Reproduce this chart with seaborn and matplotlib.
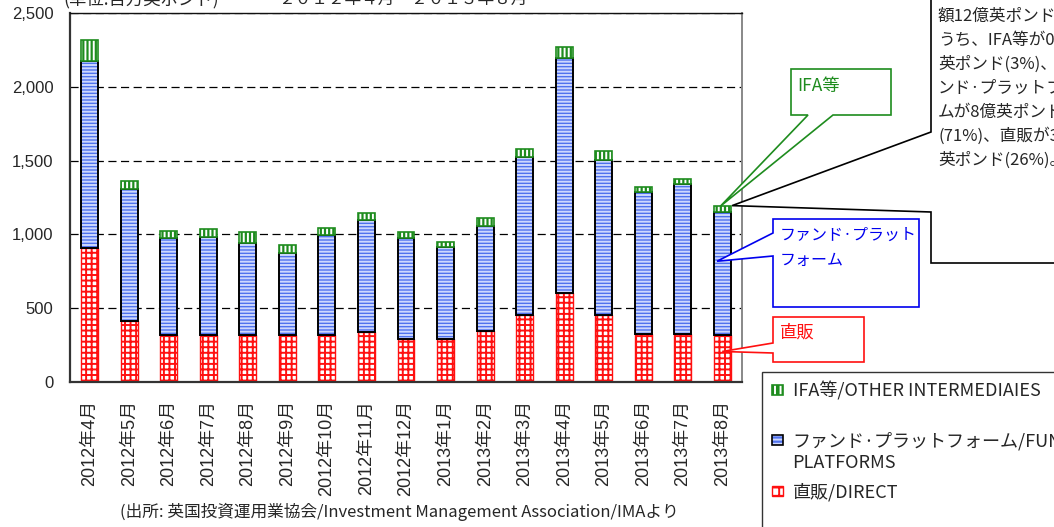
import numpy as np
import pandas as pd
import matplotlib
matplotlib.use("Agg")
import matplotlib.pyplot as plt
from matplotlib.patches import Patch, Polygon, Rectangle
from matplotlib.legend_handler import HandlerTuple
import seaborn as sns

# Monthly net retail sales by distribution channel (GBP millions)
months = ["2012年4月", "2012年5月", "2012年6月", "2012年7月", "2012年8月", "2012年9月",
          "2012年10月", "2012年11月", "2012年12月", "2013年1月", "2013年2月", "2013年3月",
          "2013年4月", "2013年5月", "2013年6月", "2013年7月", "2013年8月"]
direct = [910, 415, 318, 318, 318, 318, 318, 341, 294, 294, 348, 456, 601, 456, 325, 325, 318]
platforms = [1265, 890, 655, 667, 626, 558, 678, 757, 679, 618, 711, 1071, 1592, 1048, 960, 1014, 834]
ifa = [145, 60, 48, 49, 70, 50, 49, 47, 41, 36, 54, 50, 75, 59, 38, 38, 38]

yticks = [0, 500, 1000, 1500, 2000, 2500]
legend_labels = ["IFA等/OTHER INTERMEDIAIES", "ファンド·プラットフォーム/FUND", "直販/DIRECT"]
unit_text = "(単位:百万英ポンド)"
period_text = "２０１２年４月～２０１３年８月"
source_text = "(出所: 英国投資運用業協会/Investment Management Association/IMAより"
note_lines = ["額12億英ポンドの", "うち、IFA等が0.4億", "英ポンド(3%)、ファ",
              "ンド·プラットフォー", "ムが8億英ポンド", "(71%)、直販が3億", "英ポンド(26%)。"]

RED = "#ff1010"
BLUE = "#4f72ee"
BLUE_STRIPE = "#cdd7ff"
GREEN = "#1e8c1e"
JP = ["Noto Sans CJK JP", "DejaVu Sans"]
LAT = ["Liberation Sans", "Noto Sans CJK JP", "DejaVu Sans"]

sns.set_theme(style="white")
plt.rcParams["font.family"] = JP
plt.rcParams["hatch.linewidth"] = 1.4

W, H = 1054, 527
fig = plt.figure(figsize=(W / 100, H / 100), dpi=100)
fig.patch.set_facecolor("white")


def fp(px, py):
    """pixel position (from top-left) -> figure fraction"""
    return (px / W, 1 - py / H)


ax = fig.add_axes([70 / W, 1 - 382 / H, (742 - 70) / W, (382 - 13) / H])

df = pd.DataFrame({"month": months, "direct": direct, "platforms": platforms, "ifa": ifa})
df["mid"] = df["direct"] + df["platforms"]
bw = 0.43
common = dict(data=df, x="month", order=months, width=bw, errorbar=None, ax=ax, saturation=1)

# direct: white cells with a red grid
sns.barplot(y="direct", color="white", edgecolor=RED, linewidth=1.0, hatch="+++", **common)
# fund platforms: blue with pale horizontal stripes, black outline
sns.barplot(y="platforms", bottom=df["direct"].values, color=BLUE, edgecolor=BLUE_STRIPE,
            linewidth=0, hatch="-----", **common)
sns.barplot(y="platforms", bottom=df["direct"].values, fill=False, color="black",
            linewidth=1.4, **common)
# IFA / other intermediaries: green with white vertical stripes
sns.barplot(y="ifa", bottom=df["mid"].values, color=GREEN, edgecolor="white",
            linewidth=0, hatch="||||", **common)
sns.barplot(y="ifa", bottom=df["mid"].values, fill=False, color=GREEN,
            linewidth=1.2, **common)

ax.set_xlim(-0.5, len(months) - 0.5)
ax.set_ylim(0, 2500)
ax.set_xlabel("")
ax.set_ylabel("")
ax.set_yticks(yticks)
ax.set_yticklabels([f"{v:,}" for v in yticks], family=LAT, fontsize=12)
ax.yaxis.grid(True, linestyle=(0, (6.5, 3.6)), color="black", linewidth=0.9)
ax.xaxis.grid(False)
ax.set_axisbelow(True)
ax.tick_params(axis="y", length=0, pad=12)
ax.tick_params(axis="x", which="major", length=0, pad=13, rotation=90)
for lab in ax.get_xticklabels():
    lab.set_family(LAT)
    lab.set_fontsize(13)
    lab.set_verticalalignment("top")
ax.set_xticks(np.arange(len(months) - 1) + 0.5, minor=True)
ax.tick_params(axis="x", which="minor", direction="in", length=5, width=1, color="#333333")

for side, col, lw in [("left", "#333333", 1.6), ("bottom", "#333333", 1.6),
                      ("top", "#111111", 1.0), ("right", "#888888", 1.4)]:
    ax.spines[side].set_visible(True)
    ax.spines[side].set_color(col)
    ax.spines[side].set_linewidth(lw)

# header (partly above the canvas) and source line
fig.text(*fp(63, -1), unit_text, fontsize=12.5, va="center", ha="left", family=JP)
fig.text(*fp(278, -1), period_text, fontsize=12, va="center", ha="left", family=JP)
fig.text(*fp(399, 512), source_text, fontsize=12, va="center", ha="center", family=JP)


def tip(x, y):
    return fig.transFigure.inverted().transform(ax.transData.transform((x, y)))


last = len(months) - 1
total_last = df["mid"].iloc[last] + ifa[last]


def callout(box, base, point, color, fill="white"):
    (x0, y0, x1, y1) = box
    (bx0, by0), (bx1, by1) = base
    if bx0 == x0 and bx1 == x0:
        # pointer leaves from the left edge
        pts = [fp(x0, y0), fp(x1, y0), fp(x1, y1), fp(x0, y1), fp(x0, by1), point, fp(x0, by0)]
    else:
        # pointer leaves from the bottom edge
        pts = [fp(x0, y0), fp(x1, y0), fp(x1, y1), fp(bx1, y1), point, fp(bx0, y1), fp(x0, y1)]
    poly = Polygon(pts, closed=True, transform=fig.transFigure, facecolor=fill,
                   edgecolor=color, linewidth=1.2, zorder=5)
    fig.add_artist(poly)


# IFA callout
callout((791, 69, 891, 115), ((808, 115), (833, 115)), tip(last - 0.05, total_last), GREEN)
fig.text(*fp(797, 86), "IFA等", color=GREEN, fontsize=12.5, va="center", zorder=6)
# platform callout
callout((773, 219, 919, 307), ((773, 233), (773, 256)),
        tip(last - 0.13, direct[last] + 0.6 * platforms[last]), "#0000ee")
fig.text(*fp(780, 235), "ファンド·プラット", color="#0000ee", fontsize=11.5, va="center", zorder=6)
fig.text(*fp(780, 260), "フォーム", color="#0000ee", fontsize=11.5, va="center", zorder=6)
# direct callout
callout((773, 317, 864, 362), ((773, 343), (773, 353)), tip(last, 0.65 * direct[last]), RED)
fig.text(*fp(780, 333), "直販", color=RED, fontsize=12.5, va="center", zorder=6)

# summary note callout (runs off the canvas)
note_pts = [fp(931, -10), fp(931, 132), tip(last + 0.25, total_last + 5), fp(931, 212),
            fp(931, 263), fp(1070, 263), fp(1070, -10)]
fig.add_artist(Polygon(note_pts, closed=True, transform=fig.transFigure, facecolor="white",
                       edgecolor="black", linewidth=1.2, zorder=5))
for i, line in enumerate(note_lines):
    fig.text(*fp(938, 16 + 24 * i), line, fontsize=12, va="center", ha="left", zorder=6)

# legend with its frame running off the canvas
fig.add_artist(Rectangle(fp(762, 540), (1070 - 762) / W, (540 - 372) / H,
                         transform=fig.transFigure, facecolor="white", edgecolor="#333333",
                         linewidth=1.0, zorder=5))
handles = [
    (Patch(facecolor=GREEN, edgecolor="white", linewidth=0, hatch="|||"),
     Patch(fill=False, edgecolor=GREEN, linewidth=1.2)),
    (Patch(facecolor=BLUE, edgecolor=BLUE_STRIPE, linewidth=0, hatch="----"),
     Patch(fill=False, edgecolor="black", linewidth=1.2)),
    (Patch(facecolor="white", edgecolor=RED, linewidth=1.0, hatch="++"),),
]
leg = fig.legend(handles, legend_labels, loc="upper left", bbox_to_anchor=fp(772, 381),
                 frameon=False, fontsize=13, handlelength=0.6, handleheight=0.5,
                 handletextpad=0.55, labelspacing=1.78, borderaxespad=0, borderpad=0,
                 handler_map={tuple: HandlerTuple(ndivide=1)})
leg.set_zorder(6)
fig.text(*fp(792, 463), "PLATFORMS", fontsize=13, va="center", ha="left", zorder=6)

fig.savefig("out.png", dpi=100)
